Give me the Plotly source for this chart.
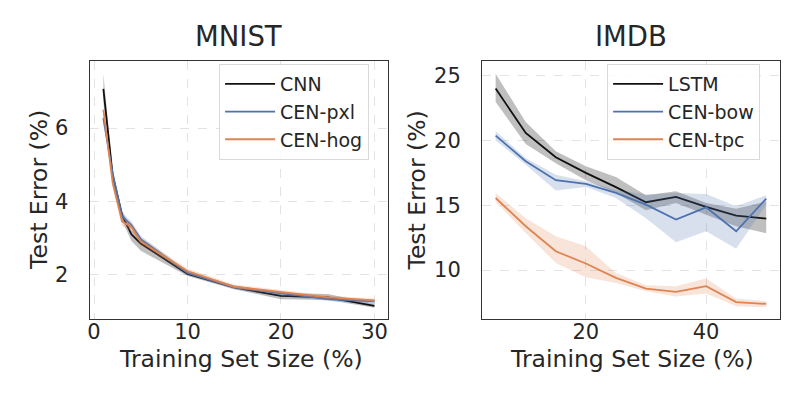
import plotly.graph_objects as go

# ── Data ──────────────────────────────────────────────────────────────────────
MNIST_X = [1, 2, 3, 4, 5, 10, 15, 20, 25, 30]
CNN = [7.07, 4.7, 3.62, 3.1, 2.85, 2.02, 1.65, 1.42, 1.38, 1.15]
CNN_LO = [6.70, 4.55, 3.48, 2.92, 2.65, 1.96, 1.60, 1.33, 1.31, 1.10]
CNN_HI = [7.48, 4.85, 3.76, 3.22, 3.00, 2.08, 1.71, 1.50, 1.47, 1.21]
PXL = [6.27, 4.75, 3.60, 3.35, 2.97, 2.05, 1.65, 1.48, 1.33, 1.27]
PXL_LO = [6.15, 4.62, 3.50, 3.25, 2.88, 1.99, 1.60, 1.42, 1.28, 1.22]
PXL_HI = [6.40, 4.88, 3.70, 3.45, 3.06, 2.11, 1.70, 1.54, 1.38, 1.32]
HOG = [6.50, 4.50, 3.45, 3.30, 2.90, 2.10, 1.67, 1.53, 1.38, 1.30]
HOG_LO = [6.35, 4.38, 3.33, 3.18, 2.80, 2.03, 1.61, 1.47, 1.33, 1.25]
HOG_HI = [6.65, 4.62, 3.58, 3.42, 3.00, 2.17, 1.73, 1.59, 1.43, 1.35]

IMDB_X = [5, 10, 15, 20, 25, 30, 35, 40, 45, 50]
LSTM = [24.0, 20.58, 18.7, 17.5, 16.4, 15.23, 15.64, 14.87, 14.2, 13.97]
LSTM_LO = [22.97, 19.73, 18.24, 16.93, 15.95, 14.61, 15.18, 14.27, 13.38, 12.84]
LSTM_HI = [25.15, 21.43, 19.16, 18.0, 17.18, 15.77, 16.08, 15.18, 14.72, 15.3]
BOW = [20.37, 18.4, 16.93, 16.64, 15.95, 15.05, 13.9, 14.84, 12.99, 15.51]
BOW_LO = [20.0, 18.13, 16.13, 16.41, 15.56, 14.0, 12.14, 13.0, 11.65, 15.05]
BOW_HI = [20.71, 18.65, 17.36, 16.85, 16.2, 15.82, 15.95, 15.87, 14.92, 15.77]
TPC = [15.56, 13.38, 11.45, 10.5, 9.39, 8.57, 8.31, 8.75, 7.52, 7.38]
TPC_LO = [15.25, 12.86, 10.55, 9.44, 9.0, 8.36, 7.95, 8.18, 7.21, 7.13]
TPC_HI = [15.95, 14.0, 12.6, 11.83, 9.77, 8.83, 8.75, 9.34, 7.8, 7.59]

BLACK = "#111111"
BLUE = "#4c72b0"
ORANGE = "#dd8452"
BANDS = {BLACK: "rgba(0,0,0,0.25)", BLUE: "rgba(76,114,176,0.22)",
         ORANGE: "rgba(221,132,82,0.22)"}

FONT = "DejaVu Sans"
TXT = "#262626"

fig = go.Figure()


def add_series(x, y, lo, hi, name, color, xa, ya, legend):
    fig.add_trace(go.Scatter(
        x=x + x[::-1], y=hi + lo[::-1], fill="toself", fillcolor=BANDS[color],
        line=dict(width=0), mode="lines", showlegend=False, hoverinfo="skip",
        xaxis=xa, yaxis=ya,
    ))
    fig.add_trace(go.Scatter(
        x=x, y=y, mode="lines", name=name, line=dict(color=color, width=1.8),
        xaxis=xa, yaxis=ya, legend=legend, legendgroup=name,
    ))


add_series(MNIST_X, CNN, CNN_LO, CNN_HI, "CNN", BLACK, "x", "y", "legend")
add_series(MNIST_X, PXL, PXL_LO, PXL_HI, "CEN-pxl", BLUE, "x", "y", "legend")
add_series(MNIST_X, HOG, HOG_LO, HOG_HI, "CEN-hog", ORANGE, "x", "y", "legend")
add_series(IMDB_X, LSTM, LSTM_LO, LSTM_HI, "LSTM", BLACK, "x2", "y2", "legend2")
add_series(IMDB_X, BOW, BOW_LO, BOW_HI, "CEN-bow", BLUE, "x2", "y2", "legend2")
add_series(IMDB_X, TPC, TPC_LO, TPC_HI, "CEN-tpc", ORANGE, "x2", "y2", "legend2")

W, H = 797, 399
base = dict(
    showline=True, mirror=True, linecolor="#333333", linewidth=1.3,
    showgrid=True, gridcolor="#e3e3e3", griddash="dash", gridwidth=1,
    zeroline=False, ticks="outside", tickcolor="rgba(0,0,0,0)",
    tickfont=dict(family=FONT, size=21, color=TXT),
)
xstyle = dict(base, ticklen=2, ticklabelstandoff=-8)
ystyle = dict(base, ticklen=16)

legend_style = dict(
    xanchor="right", yanchor="top", bgcolor="rgba(255,255,255,0.85)",
    bordercolor="#d9d9d9", borderwidth=1, itemwidth=50, tracegroupgap=0,
    font=dict(family=FONT, size=19, color=TXT),
)

fig.update_layout(
    width=W, height=H, margin=dict(l=0, r=0, t=0, b=0),
    plot_bgcolor="white", paper_bgcolor="white",
    xaxis=dict(domain=[80 / W, 379 / W], range=[-0.45, 31.45],
               tickvals=[0, 10, 20, 30], anchor="y", **xstyle),
    yaxis=dict(domain=[88 / H, 346 / H], range=[0.79, 7.83],
               tickvals=[2, 4, 6], anchor="x", **ystyle),
    xaxis2=dict(domain=[473.3 / W, 771.7 / W], range=[2.75, 52.25],
                tickvals=[20, 40], anchor="y2", **xstyle),
    yaxis2=dict(domain=[88 / H, 346 / H], range=[6.22, 26.13],
                tickvals=[10, 15, 20, 25], anchor="x2", **ystyle),
    legend=dict(x=360 / W, y=1 - 56 / H, **legend_style),
    legend2=dict(x=752 / W, y=1 - 56 / H, **legend_style),
    showlegend=True,
)

# Panel titles and axis labels
for text, x, y, size, angle in [
    ("MNIST", 229.5, 28, 27.5, 0),
    ("IMDB", 622.5, 28, 27.5, 0),
    ("Training Set Size (%)", 231.5, 351, 23.5, 0),
    ("Training Set Size (%)", 624, 351, 23.5, 0),
    ("Test Error (%)", 29, 182, 23.5, -90),
    ("Test Error (%)", 408.5, 182, 23.5, -90),
]:
    fig.add_annotation(
        text=text, x=x / W, y=1 - y / H, xref="paper", yref="paper",
        xanchor="center", yanchor="middle", showarrow=False, textangle=angle,
        font=dict(family=FONT, size=size, color=TXT),
    )

fig.write_html("out.html")
